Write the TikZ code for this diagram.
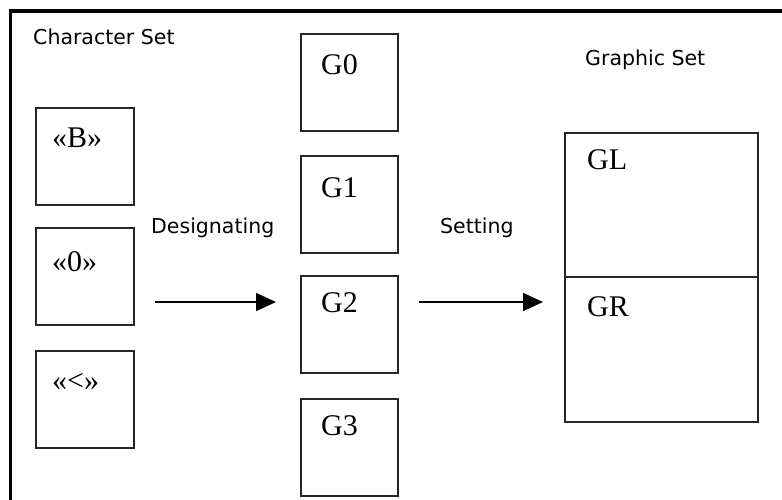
\documentclass[tikz,border=0pt]{standalone}
\usepackage{fontspec}
\setmainfont{Liberation Serif}
\newfontfamily\sansf{DejaVu Sans}
\usetikzlibrary{arrows.meta,calc}
\begin{document}
\begin{tikzpicture}[x=1pt,y=-1pt,
  box/.style={draw=black!85, line width=1.7pt, minimum width=98pt, minimum height=97pt, inner sep=0pt, anchor=north west},
  gbox/.style={draw=black!85, line width=1.7pt, minimum width=97pt, minimum height=97pt, inner sep=0pt, anchor=north west},
  half/.style={draw=black!85, line width=1.7pt, minimum width=193pt, minimum height=145pt, inner sep=0pt, anchor=north west},
  sertext/.style={font=\fontsize{30}{33}\selectfont, anchor=west, inner sep=0pt},
  santext/.style={font=\sansf\fontsize{20.5}{24}\selectfont, anchor=west, inner sep=0pt},
  arr/.style={line width=1.6pt, -{Triangle[length=20pt,width=18pt]}}
]
\useasboundingbox (0,0) rectangle (782,499);
\fill[white] (0,0) rectangle (782,499);
% frame
\draw[line width=3.8pt] (10.5,505) -- (10.5,10.8) -- (790,10.8);

% character set
\node[santext] (cs) at (33,37) {Character Set};
\node[box] (cB) at (35,107) {};
\node[box] (c0) at (35,227) {};
\node[box] (cL) at (35,350) {};
\node[sertext] (tB) at (52,138) {«B»};
\node[sertext] (t0) at (52,262) {«0»};
\node[sertext] (tL) at (52,382) {«<»};

% designating
\node[santext] (des) at (151,228) {Designating};
\coordinate (a1s) at (155,302);
\coordinate (a1e) at (276,302);
\draw[arr] (a1s) -- (a1e);

% G boxes
\node[gbox] (g0) at (300,33) {};
\node[gbox] (g1) at (300,155) {};
\node[gbox] (g2) at (300,275) {};
\node[gbox] (g3) at (300,398) {};
\node[sertext] (tg0) at (321,65) {G0};
\node[sertext] (tg1) at (321,188) {G1};
\node[sertext] (tg2) at (321,303) {G2};
\node[sertext] (tg3) at (321,426) {G3};

% setting
\node[santext] (set) at (440,228) {Setting};
\coordinate (a2s) at (419,302);
\coordinate (a2e) at (543,302);
\draw[arr] (a2s) -- (a2e);

% graphic set
\node[santext] (gs) at (585,60) {Graphic Set};
\node[half, minimum height=144pt] (gl) at (564,132) {};
\node[half] (gr) at (564,276) {};
\node[sertext] (tgl) at (587,160) {GL};
\node[sertext] (tgr) at (587,307) {GR};
\end{tikzpicture}
\end{document}
